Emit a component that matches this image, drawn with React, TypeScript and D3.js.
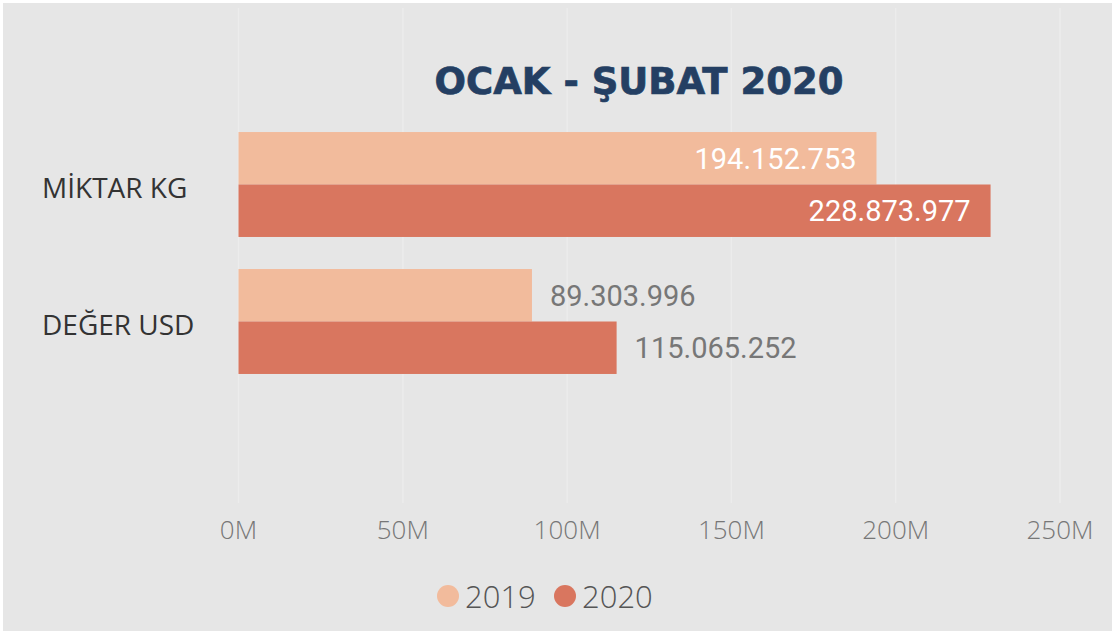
import React from 'react';
import * as d3 from 'd3';

const categories = ['MİKTAR KG', 'DEĞER USD'];
const series = ['2019', '2020'];
const values2019 = [194152753, 89303996];
const values2020 = [228873977, 115065252];
const xTicks = [0, 50e6, 100e6, 150e6, 200e6, 250e6];
const colors = ['#f2bb9c', '#d9765f'];

const W = 1115;
const H = 634;

// Turkish-style thousands separator
const fmt = (v: number) => d3.format(',')(v).replace(/,/g, '.');

const App = () => {
  const x = d3.scaleLinear().domain([0, 250e6]).range([238.5, 1060]);
  const y = d3.scaleBand().domain(categories).range([116, 390]).paddingInner(0.234).paddingOuter(0.117);
  const ySub = d3.scaleBand().domain(series).range([0, y.bandwidth()]);
  const seriesValues = [values2019, values2020];
  const labelFont = 29;

  return (
    <svg width={W} height={H} style={{ position: 'fixed', left: 0, top: 0 }}>
      <rect x={0} y={0} width={W} height={H} fill="#ffffff" />
      <rect x={3} y={3} width={W - 6} height={H - 6} fill="#e6e6e6" />

      {/* gridlines */}
      {xTicks.map(t => (
        <line key={t} x1={x(t)} x2={x(t)} y1={8} y2={503} stroke="#ececec" strokeWidth={1.5} />
      ))}

      <text x={639} y={94} textAnchor="middle" fontFamily="DejaVu Sans" fontWeight="bold" fontSize={37}
        fill="#243f63" stroke="#243f63" strokeWidth={0.7}>
        OCAK - ŞUBAT 2020
      </text>

      {/* category labels */}
      {categories.map(c => (
        <text key={c} x={42} y={(y(c) as number) + y.bandwidth() / 2 + 13.5} fontFamily="Open Sans" fontSize={28} fill="#333333">
          {c}
        </text>
      ))}

      {/* bars */}
      {categories.map((c, ci) => (
        <g key={c} transform={`translate(0,${y(c)})`}>
          {series.map((s, si) => {
            const v = seriesValues[si][ci];
            const x0 = x(0);
            const x1 = x(v);
            const by = ySub(s) as number;
            const bh = ySub.bandwidth();
            const label = fmt(v);
            const estW = label.length * labelFont * 0.5;
            // labels go inside only on long bars, like the original
            const inside = x1 - x0 > estW * 2.5;
            return (
              <g key={s}>
                <rect x={x0} y={by} width={x1 - x0} height={bh} fill={colors[si]} />
                <text
                  x={inside ? x1 - 20 : x1 + 18}
                  y={by + bh / 2 + 10.5}
                  textAnchor={inside ? 'end' : 'start'}
                  fontFamily="Roboto"
                  fontSize={labelFont}
                  fill={inside ? '#ffffff' : '#777777'}
                >
                  {label}
                </text>
              </g>
            );
          })}
        </g>
      ))}

      {/* x axis tick labels */}
      {xTicks.map(t => (
        <text key={t} x={x(t)} y={539} textAnchor="middle" fontFamily="Open Sans" fontWeight={300} fontSize={26} fill="#777777">
          {`${t / 1e6}M`}
        </text>
      ))}

      {/* legend */}
      {series.map((s, i) => {
        const lx = 448 + i * 117;
        return (
          <g key={s}>
            <circle cx={lx} cy={596} r={11} fill={colors[i]} />
            <text x={lx + 17} y={607.5} fontFamily="Open Sans" fontWeight={300} fontSize={31} fill="#555555">
              {s}
            </text>
          </g>
        );
      })}
    </svg>
  );
};

export default App;
